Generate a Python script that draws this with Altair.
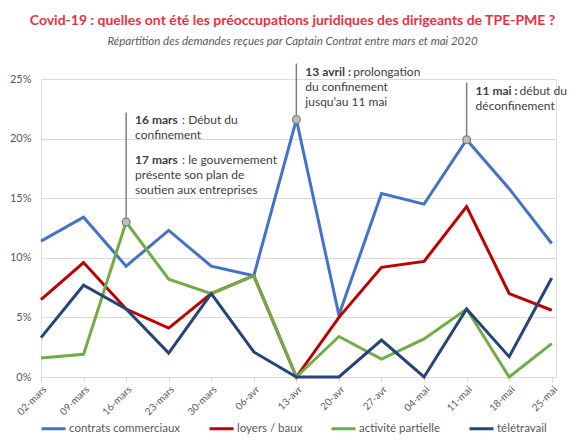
import json
import altair as alt
import pandas as pd

# Weekly share (%) of requests by topic
weeks = ["02-mars", "09-mars", "16-mars", "23-mars", "30-mars", "06-avr", "13-avr",
         "20-avr", "27-avr", "04-mai", "11-mai", "18-mai", "25-mai"]
contrats = [11.4, 13.4, 9.3, 12.3, 9.3, 8.5, 21.6, 5.2, 15.4, 14.5, 19.9, 15.8, 11.2]
loyers = [6.5, 9.6, 5.7, 4.1, 7.0, 8.5, 0.0, 5.0, 9.2, 9.7, 14.3, 7.0, 5.6]
activite = [1.6, 1.9, 13.0, 8.2, 7.0, 8.5, 0.0, 3.4, 1.5, 3.2, 5.7, 0.0, 2.8]
teletravail = [3.3, 7.7, 5.7, 2.0, 7.0, 2.1, 0.0, 0.0, 3.1, 0.0, 5.7, 1.7, 8.3]

series_names = ["contrats commerciaux", "loyers / baux", "activité partielle", "télétravail"]
series_colors = ["#4472C4", "#C00000", "#70AD47", "#264478"]
series_values = [contrats, loyers, activite, teletravail]

# Key events: week, marked value, top of the leader line (%)
event_weeks = ["16-mars", "13-avr", "11-mai"]
event_values = [13.0, 21.6, 19.9]
event_tops = [22.2, 26.3, 24.7]
event_lines = [
    [("16 mars", ": Début du"), ("", "confinement"), None,
     ("17 mars", ": le gouvernement"), ("", "présente son plan de"), ("", "soutien aux entreprises")],
    [("13 avril :", "prolongation"), ("", "du confinement"), ("", "jusqu\u2019au 11 mai")],
    [("11 mai :", "début du"), ("", "déconfinement")],
]
# horizontal shift of the regular part after each bold lead-in (px)
lead_shift = {"16 mars": 47, "17 mars": 47, "13 avril :": 48, "11 mai :": 44}

FONT = "Lato"
rows = []
for name, vals in zip(series_names, series_values):
    for i, (w, v) in enumerate(zip(weeks, vals)):
        rows.append({"i": i, "semaine": w, "serie": name, "pct": v})
df = pd.DataFrame(rows)

events = pd.DataFrame({
    "i": [weeks.index(w) for w in event_weeks],
    "pct": event_values,
    "top": event_tops,
})

label_expr = json.dumps(weeks) + "[datum.value]"
x_enc = alt.X(
    "i:Q",
    scale=alt.Scale(domain=[0, 12.1], nice=False, zero=False),
    axis=alt.Axis(
        values=list(range(len(weeks))), labelExpr=label_expr, title=None,
        labelAngle=-45, labelFontSize=10, labelColor="#595959", labelFont=FONT,
        domain=False, grid=False, ticks=True, tickColor="#d9d9d9", tickSize=5,
        labelPadding=2,
    ),
)
y_scale = alt.Scale(domain=[0, 25], nice=False)
y_axis = alt.Axis(
    values=[0, 5, 10, 15, 20, 25], labelExpr="datum.value + '%'", title=None,
    labelFontSize=11, labelColor="#595959", labelFont=FONT, domain=False,
    ticks=False, grid=True, gridColor="#d9d9d9", gridWidth=1, labelPadding=10,
)

lines = alt.Chart(df).mark_line(strokeWidth=3).encode(
    x=x_enc,
    y=alt.Y("pct:Q", scale=y_scale, axis=y_axis),
    color=alt.Color(
        "serie:N",
        scale=alt.Scale(domain=series_names, range=series_colors),
        sort=series_names,
        legend=alt.Legend(
            orient="none", legendX=-1, legendY=336, direction="horizontal",
            title=None, symbolType="stroke", symbolSize=576, symbolStrokeWidth=3,
            labelFontSize=11.5, labelColor="#595959", labelFont=FONT,
            columnPadding=22, labelOffset=2,
        ),
    ),
    order=alt.Order("i:Q"),
)

leaders = alt.Chart(events).mark_rule(color="#7f7f7f", strokeWidth=1.5).encode(
    x=x_enc, y=alt.Y("pct:Q", scale=y_scale), y2="top:Q"
)
markers = alt.Chart(events).mark_point(
    filled=True, fill="#bfbfbf", stroke="#7f7f7f", strokeWidth=1.3, size=60, opacity=1
).encode(x=x_enc, y=alt.Y("pct:Q", scale=y_scale))

notes = []
for k in range(len(event_weeks)):
    one = events.iloc[[k]]
    dy = 8
    for line in event_lines[k]:
        if line is None:
            dy += 10
            continue
        bold, rest = line
        if bold:
            notes.append(
                alt.Chart(one).mark_text(
                    text=bold, align="left", baseline="middle", dx=9, dy=dy,
                    font=FONT, fontSize=12, fontWeight="bold", color="#404040",
                ).encode(x=x_enc, y=alt.Y("top:Q", scale=y_scale))
            )
        notes.append(
            alt.Chart(one).mark_text(
                text=rest, align="left", baseline="middle",
                dx=9 + (lead_shift[bold] if bold else 0), dy=dy,
                font=FONT, fontSize=12, color="#404040",
            ).encode(x=x_enc, y=alt.Y("top:Q", scale=y_scale))
        )
        dy += 15

chart = alt.layer(leaders, lines, markers, *notes).properties(
    width=515, height=298,
    padding={"left": 41, "top": 79, "right": 26, "bottom": 71},
    autosize=alt.AutoSizeParams(type="none"),
    title=alt.TitleParams(
        text="Covid-19 : quelles ont été les préoccupations juridiques des dirigeants de TPE-PME ?",
        subtitle="Répartition des demandes reçues par Captain Contrat entre mars et mai 2020",
        anchor="middle", dx=-6, offset=15, font=FONT, fontSize=14, fontWeight="bold",
        color="#E8323F", subtitleFont=FONT, subtitleFontSize=11.5,
        subtitleFontStyle="italic", subtitleColor="#595959", subtitlePadding=8,
    ),
).configure_view(stroke=None).configure(background="white")

chart.save("out.html", embed_options={"renderer": "svg", "actions": False})
